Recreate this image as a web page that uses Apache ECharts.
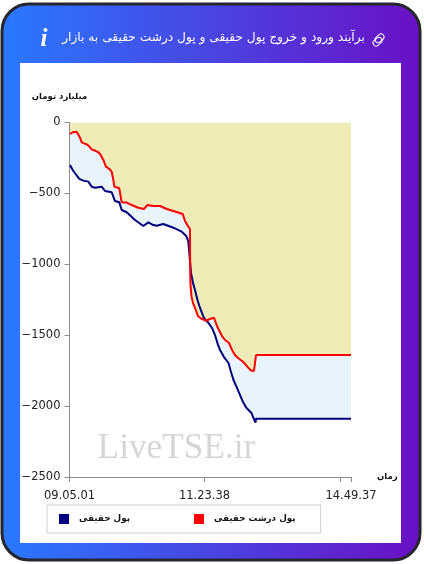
<!DOCTYPE html>
<html><head><meta charset="utf-8">
<script src="https://cdn.jsdelivr.net/npm/echarts@6/dist/echarts.min.js"></script>
<style>html,body{margin:0;padding:0;background:#fff}#c{width:424px;height:564px}</style>
</head><body><div id="c"></div>
<script>
const titleText = 'برآیند ورود و خروج پول حقیقی و پول درشت حقیقی به بازار';
const yTitle = 'میلیارد تومان';
const xTitle = 'زمان';
const realName = 'پول حقیقی';
const bigName = 'پول درشت حقیقی';
const watermark = 'LiveTSE.ir';
const xTickLabels = {0:'09.05.01',135:'11.23.38',281.5:'14.49.37'};
const xTickSpots = [0,135,270.5,281.5];
const yTicks = [0,-500,-1000,-1500,-2000,-2500];

const bigX = [0.5,3.2,4.5,7.2,8.8,10.5,12.2,14.5,17.2,19.8,22.2,25.5,28.8,31.2,33.8,36.5,39.8,42.2,43.8,44.8,49.8,51.2,52.2,57.2,62.2,68.8,74.5,77.8,83.8,90.5,97.2,103.8,113.2,115.5,118.8,120.5,120.7,121,122,123.5,125.5,128.5,131.5,136.5,140.5,144.5,146.5,148.5,152.5,155.5,159.5,162.5,165.5,168.5,173.5,178.5,181.5,184.5,186,186.5,281.5];
const bigY = [-81,-69,-76,-65,-76,-107,-140,-147,-154,-170,-189,-199,-210,-229,-264,-311,-328,-347,-405,-452,-464,-476,-563,-565,-582,-601,-610,-582,-589,-589,-610,-624,-645,-695,-735,-751,-1061,-1146,-1228,-1273,-1308,-1366,-1382,-1398,-1386,-1377,-1417,-1451,-1506,-1534,-1555,-1604,-1640,-1661,-1687,-1727,-1749,-1752,-1738,-1640,-1640];
const realX = [0.5,3.2,5.5,9.8,13.8,18.8,22.2,25.5,32.2,35.5,42.2,45.5,49.8,52.2,57.2,65.5,73.8,78.8,83.8,87.2,93.8,103.8,112.2,116.5,118.8,121.5,123.5,125.5,128,130.5,134.5,139,142.5,145.5,148.5,150.5,154.5,159,161.5,164,167.5,170.5,173.5,177,182,184,186,186.5,281.5];
const realY = [-300,-335,-358,-398,-410,-417,-453,-460,-453,-483,-492,-554,-563,-617,-633,-688,-730,-704,-723,-728,-716,-742,-770,-798,-836,-1061,-1132,-1181,-1252,-1308,-1379,-1414,-1449,-1499,-1569,-1604,-1654,-1696,-1759,-1816,-1872,-1922,-1971,-2013,-2049,-2084,-2117,-2089,-2089];

const zip = (a,b)=>a.map((v,i)=>[v,b[i]]);
const chart = echarts.init(document.getElementById('c'),null,{renderer:'canvas'});
const FA = '"DejaVu Sans"';
const grey = '#8c8c8c';
const areaS = (name,xs,ys,color,z)=>({name,type:'line',data:zip(xs,ys),symbol:'none',z,silent:true,
  lineStyle:{width:0},areaStyle:{color,opacity:1},animation:false});
const lineS = (name,xs,ys,color,w,z)=>({name,type:'line',data:zip(xs,ys),symbol:'none',z,
  lineStyle:{width:w,color},itemStyle:{color},animation:false});
chart.setOption({
  animation:false,
  backgroundColor:'#fff',
  graphic:[
    {type:'rect',z:-10,shape:{x:2,y:4,width:418,height:556,r:27},
     style:{fill:new echarts.graphic.LinearGradient(0,0,1,0,[{offset:0,color:'#2979ff'},{offset:1,color:'#6a10c4'}]),stroke:'#26262e',lineWidth:3}},
    {type:'rect',z:-9,shape:{x:20,y:63,width:381,height:480},style:{fill:'#fff'}},
    {type:'text',z:5,style:{x:213.5,y:37.5,text:titleText,fill:'#fff',font:'12.2px '+FA,align:'center',verticalAlign:'middle'}},
    {type:'text',z:5,style:{x:44,y:40,text:'i',fill:'#fff',font:'italic bold 25px "Liberation Serif"',align:'center',verticalAlign:'middle'}},
    {type:'rect',z:5,x:376,y:43,rotation:-0.85,shape:{x:-3,y:-7,width:6,height:10,r:3},style:{fill:'none',stroke:'#fff',lineWidth:1}},
    {type:'rect',z:5,x:381,y:37,rotation:-0.85,shape:{x:-3,y:-3,width:6,height:10,r:3},style:{fill:'none',stroke:'#fff',lineWidth:1}},
    {type:'text',z:5,style:{x:176.5,y:449,text:watermark,fill:'#d6d6d6',font:'35.3px "Liberation Serif"',align:'center',verticalAlign:'middle'}}
  ],
  grid:{left:69.5,top:122.5,width:281.5,height:354.5,containLabel:false},
  legend:{left:47,top:505,orient:'horizontal',data:[realName,bigName],icon:'rect',itemWidth:10,itemHeight:10,itemGap:64,
    padding:[9,25,9,12],borderColor:'#cfcfcf',borderWidth:1,
    textStyle:{fontFamily:FA,fontSize:8.8,fontWeight:'bold',color:'#111',padding:[0,0,0,5]}},
  xAxis:{type:'value',min:0,max:281.5,splitLine:{show:false},
    name:xTitle,nameLocation:'end',nameGap:26,nameTextStyle:{fontFamily:FA,fontSize:8.5,fontWeight:'bold',color:'#111',verticalAlign:'middle',padding:[0,0,0,0]},
    axisLine:{show:true,onZero:false,lineStyle:{color:grey}},
    axisTick:{show:true,length:5,lineStyle:{color:grey},customValues:xTickSpots},
    axisLabel:{color:'#222',fontFamily:FA,fontSize:11.5,margin:13,hideOverlap:false,showMinLabel:true,showMaxLabel:true,
      customValues:Object.keys(xTickLabels).map(Number),formatter:v=>xTickLabels[v]||''}},
  yAxis:{type:'value',min:-2500,max:0,interval:500,splitLine:{show:false},
    name:yTitle,nameLocation:'end',nameGap:21,nameTextStyle:{fontFamily:FA,fontSize:8.5,fontWeight:'bold',color:'#111',align:'center',padding:[0,0,0,-20]},
    axisLine:{show:true,onZero:false,lineStyle:{color:grey}},
    axisTick:{show:true,length:5,lineStyle:{color:grey}},
    axisLabel:{color:'#222',fontFamily:FA,fontSize:11.5,margin:9,padding:[3,0,0,0],formatter:v=>yTicks.includes(v)?String(v).replace('-','\u2212'):''}},
  series:[
    areaS('a1',realX,realY,'#e8f3fa',1),
    areaS('a2',bigX,bigY,'#f0ecb8',2),
    lineS(realName,realX,realY,'#00007f',2,3),
    lineS(bigName,bigX,bigY,'#ff0000',2,4)
  ]
});
</script></body></html>
